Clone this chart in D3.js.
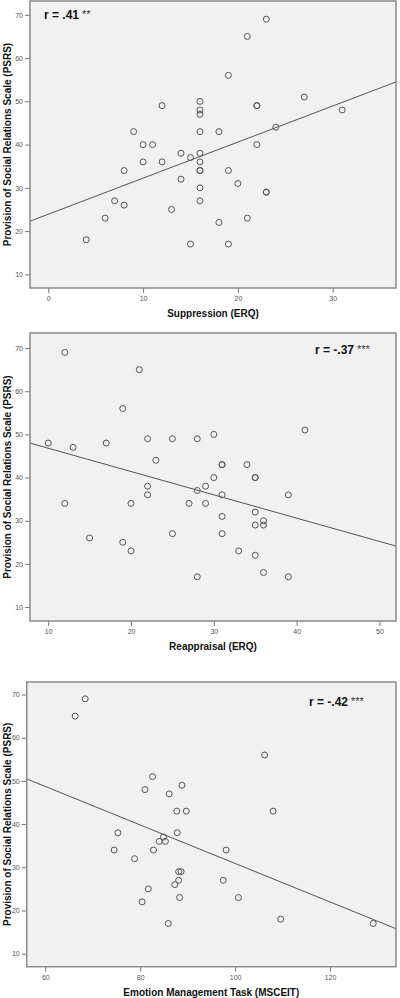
<!DOCTYPE html>
<html><head><meta charset="utf-8">
<script src="https://cdn.jsdelivr.net/npm/d3@7"></script>
<style>
html,body{margin:0;padding:0;background:#fff;}
svg{display:block;font-family:"Liberation Sans",Arial,sans-serif;}
</style></head>
<body>
<svg id="c" width="400" height="998"></svg>
<script>
// ---- data ----
const yTitle = "Provision of Social Relations Scale (PSRS)";
const yTicks = [10, 20, 30, 40, 50, 60, 70];

const supTitle = "Suppression (ERQ)";
const supTicks = [0, 10, 20, 30];
const supX = [23,21,19,27,31,12,16,16,16,22,22,9,16,18,24,10,11,22,14,15,16,10,12,16,8,16,16,19,14,16,20,23,23,7,16,8,13,6,21,18,4,15,19];
const supY = [69,65,56,51,48,49,50,48,47,49,49,43,43,43,44,40,40,40,38,37,38,36,36,36,34,34,34,34,32,30,31,29,29,27,27,26,25,23,23,22,18,17,17];
const supFit = [23.9, 0.834];   // intercept, slope
const supR = ["r = .41", "**"];

const reaTitle = "Reappraisal (ERQ)";
const reaTicks = [10, 20, 30, 40, 50];
const reaX = [12,21,19,41,10,13,17,22,25,28,30,23,31,31,34,30,35,35,22,22,29,28,31,39,12,20,27,29,31,35,36,35,36,15,25,31,19,20,33,35,36,28,39];
const reaY = [69,65,56,51,48,47,48,49,49,49,50,44,43,43,43,40,40,40,38,36,38,37,36,36,34,34,34,34,31,32,30,29,29,26,27,27,25,23,23,22,18,17,17];
const reaFit = [52.2, -0.54];
const reaR = ["r = -.37", "***"];

const emtTitle = "Emotion Management Task (MSCEIT)";
const emtTicks = [60, 80, 100, 120];
const emtX = [68.4,66.3,106.2,82.6,81.0,86.1,88.8,87.7,89.7,108.0,75.3,87.8,74.5,82.8,98.1,84.9,84.0,85.3,78.8,88.1,88.6,88.1,87.3,97.5,81.7,80.4,88.3,100.7,85.9,109.6,129.1];
const emtY = [69,65,56,51,48,47,49,43,43,43,38,38,34,34,34,37,36,36,32,29,29,27,26,27,25,22,23,23,17,18,17];
const emtFit = [75.46, -0.4457];
const emtR = ["r = -.42", "***"];

// ---- layout ----
const panels = [
  {xs:supX, ys:supY, fit:supFit, r:supR, title:supTitle, ticks:supTicks,
   xd:[-1.93, 36.68], yd:[6.84, 73.2], box:{l:30, t:1, r:396, b:288}, rPos:{x:44, y:19}},
  {xs:reaX, ys:reaY, fit:reaFit, r:reaR, title:reaTitle, ticks:reaTicks,
   xd:[7.8, 52.0], yd:[6.76, 73.5], box:{l:30, t:333, r:396, b:621}, rPos:{x:315, y:354}},
  {xs:emtX, ys:emtY, fit:emtFit, r:emtR, title:emtTitle, ticks:emtTicks,
   xd:[56.08, 133.9], yd:[6.99, 72.9], box:{l:26.7, t:682, r:396, b:966.7}, rPos:{x:309, y:706}}
];

const svg = d3.select("#c");

panels.forEach(p => {
  const b = p.box;
  const x = d3.scaleLinear().domain(p.xd).range([b.l, b.r]);
  const y = d3.scaleLinear().domain(p.yd).range([b.b, b.t]);
  const g = svg.append("g");

  g.append("rect").attr("x", b.l).attr("y", b.t)
    .attr("width", b.r - b.l).attr("height", b.b - b.t)
    .attr("fill", "#f1f1f1");

  // y axis
  const ya = g.append("g").attr("transform", `translate(${b.l},0)`)
    .call(d3.axisLeft(y).tickValues(yTicks).tickSize(5).tickPadding(2).tickFormat(d3.format("d")));
  ya.select(".domain").remove();
  ya.selectAll("line").attr("stroke", "#777");
  ya.selectAll("text").attr("fill", "#555").style("font-size", "7px").style("font-family", "'Liberation Sans',Arial,sans-serif");

  // x axis
  const xa = g.append("g").attr("transform", `translate(0,${b.b})`)
    .call(d3.axisBottom(x).tickValues(p.ticks).tickSize(5).tickPadding(3).tickFormat(d3.format("d")));
  xa.select(".domain").remove();
  xa.selectAll("line").attr("stroke", "#777");
  xa.selectAll("text").attr("fill", "#555").style("font-size", "7px").style("font-family", "'Liberation Sans',Arial,sans-serif");

  // fit line
  const clip = "clip" + b.t;
  g.append("clipPath").attr("id", clip).append("rect")
    .attr("x", b.l).attr("y", b.t).attr("width", b.r - b.l).attr("height", b.b - b.t);
  const fx = p.xd;
  g.append("line").attr("clip-path", `url(#${clip})`)
    .attr("x1", x(fx[0])).attr("y1", y(p.fit[0] + p.fit[1] * fx[0]))
    .attr("x2", x(fx[1])).attr("y2", y(p.fit[0] + p.fit[1] * fx[1]))
    .attr("stroke", "#555").attr("stroke-width", 1);

  // points
  g.selectAll("circle.pt").data(p.xs.map((v, i) => [v, p.ys[i]])).join("circle")
    .attr("class", "pt")
    .attr("cx", d => x(d[0])).attr("cy", d => y(d[1])).attr("r", 3)
    .attr("fill", "none").attr("stroke", "#555").attr("stroke-width", 1);

  // frame
  g.append("rect").attr("x", b.l).attr("y", b.t)
    .attr("width", b.r - b.l).attr("height", b.b - b.t)
    .attr("fill", "none").attr("stroke", "#8a8a8a").attr("stroke-width", 1.5);

  // r text
  const rt = g.append("text").attr("x", p.rPos.x).attr("y", p.rPos.y)
    .attr("fill", "#111").style("font-size", "12px").style("font-weight", "bold");
  rt.append("tspan").text(p.r[0]);
  rt.append("tspan").attr("dx", 3).attr("dy", -1).attr("fill", "#333")
    .style("font-size", "11px").style("font-weight", "normal").text(p.r[1]);

  // x title
  g.append("text").attr("x", (b.l + b.r) / 2).attr("y", b.b + 29)
    .attr("text-anchor", "middle").attr("fill", "#111")
    .style("font-size", "10px").style("font-weight", "bold").text(p.title);

  // y title
  g.append("text").attr("transform", `translate(10.5,${(b.t + b.b) / 2}) rotate(-90)`)
    .attr("text-anchor", "middle").attr("fill", "#111")
    .style("font-size", "10px").style("font-weight", "bold").text(yTitle);
});
</script>
</body></html>
